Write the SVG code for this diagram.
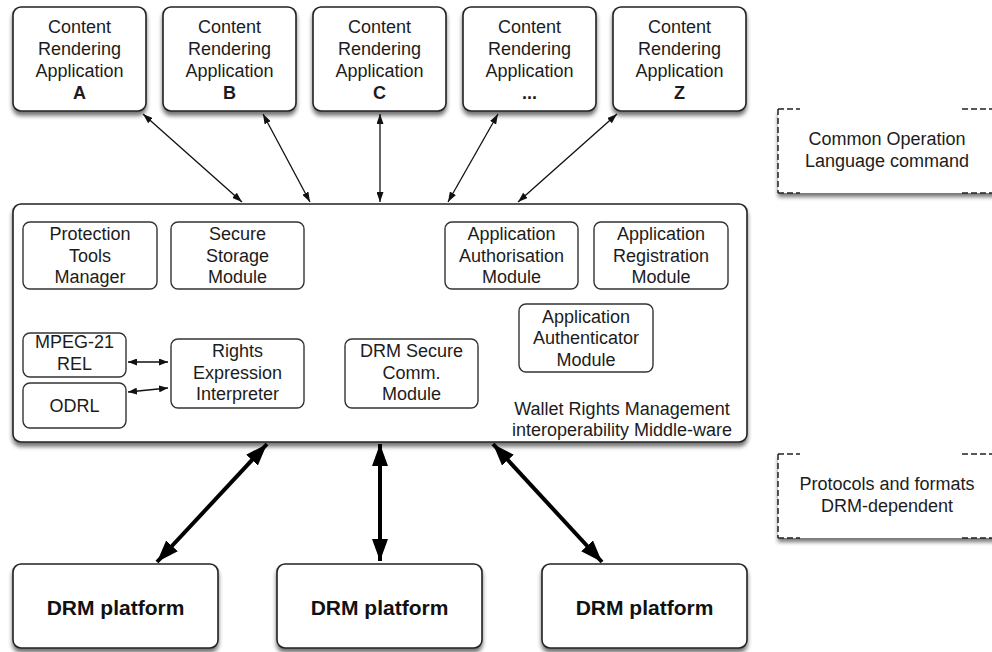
<svg xmlns="http://www.w3.org/2000/svg" width="992" height="652" viewBox="0 0 992 652">
  <defs>
    <filter id="shadow" x="-10%" y="-10%" width="120%" height="130%">
      <feGaussianBlur in="SourceAlpha" stdDeviation="2.2"/>
      <feOffset dx="0" dy="4" result="b"/>
      <feComponentTransfer><feFuncA type="linear" slope="0.55"/></feComponentTransfer>
      <feMerge><feMergeNode/><feMergeNode in="SourceGraphic"/></feMerge>
    </filter>
    <marker id="headThin" viewBox="0 0 10 7" refX="10" refY="3.5" markerWidth="10" markerHeight="7" markerUnits="userSpaceOnUse" orient="auto-start-reverse">
      <path d="M0,0 L10,3.5 L0,7 z" fill="#111"/>
    </marker>
    <marker id="headSmall" viewBox="0 0 9 7" refX="9" refY="3.5" markerWidth="9" markerHeight="7" markerUnits="userSpaceOnUse" orient="auto-start-reverse">
      <path d="M0,0 L9,3.5 L0,7 z" fill="#111"/>
    </marker>
    <marker id="headBig" viewBox="0 0 22 16" refX="22" refY="8" markerWidth="22" markerHeight="16" markerUnits="userSpaceOnUse" orient="auto-start-reverse">
      <path d="M0,0 L22,8 L0,16 z" fill="#000"/>
    </marker>
  </defs>
  <style>
    text { font-family: "Liberation Sans", Arial, Helvetica, sans-serif; font-size: 18px; fill: #1c1c1c; text-anchor: middle; }
    .b { font-weight: bold; }
    .big { font-size: 21px; font-weight: bold; fill: #111; }
    .box { fill: #fff; stroke: #222; stroke-width: 1.6; filter: url(#shadow); }
    .inner { fill: #fff; stroke: #333; stroke-width: 1.4; }
    .thin { stroke: #111; stroke-width: 1.3; fill: none; marker-start: url(#headThin); marker-end: url(#headThin); }
    .small { stroke: #111; stroke-width: 1.6; fill: none; marker-start: url(#headSmall); marker-end: url(#headSmall); }
    .thick { stroke: #000; stroke-width: 4; fill: none; marker-start: url(#headBig); marker-end: url(#headBig); }
    .dash { stroke: #222; stroke-width: 1.5; fill: none; stroke-dasharray: 6 3; }
  </style>

  <rect width="992" height="652" fill="#fff"/>

  <!-- content rendering applications -->
  <g id="appA">
    <rect class="box" x="13" y="7" width="133" height="104" rx="8"/>
    <text x="79.5" y="33">Content</text><text x="79.5" y="55">Rendering</text><text x="79.5" y="77">Application</text><text class="b" x="79.5" y="99">A</text>
  </g>
  <g id="appB">
    <rect class="box" x="163" y="7" width="133" height="104" rx="8"/>
    <text x="229.5" y="33">Content</text><text x="229.5" y="55">Rendering</text><text x="229.5" y="77">Application</text><text class="b" x="229.5" y="99">B</text>
  </g>
  <g id="appC">
    <rect class="box" x="313" y="7" width="133" height="104" rx="8"/>
    <text x="379.5" y="33">Content</text><text x="379.5" y="55">Rendering</text><text x="379.5" y="77">Application</text><text class="b" x="379.5" y="99">C</text>
  </g>
  <g id="appDots">
    <rect class="box" x="463" y="7" width="133" height="104" rx="8"/>
    <text x="529.5" y="33">Content</text><text x="529.5" y="55">Rendering</text><text x="529.5" y="77">Application</text><text class="b" x="529.5" y="99">...</text>
  </g>
  <g id="appZ">
    <rect class="box" x="613" y="7" width="133" height="104" rx="8"/>
    <text x="679.5" y="33">Content</text><text x="679.5" y="55">Rendering</text><text x="679.5" y="77">Application</text><text class="b" x="679.5" y="99">Z</text>
  </g>

  <!-- legend: common operation language -->
  <g id="legendCol">
    <rect x="778" y="109" width="220" height="84" fill="#fff" filter="url(#shadow)"/>
    <path class="dash" d="M778,109 V193"/>
    <path class="dash" d="M778,109 H800 M962,109 H992"/>
    <path class="dash" d="M778,193 H800 M962,193 H992"/>
    <text x="887" y="145">Common Operation</text>
    <text x="887" y="167">Language command</text>
  </g>

  <!-- middleware -->
  <g id="middleware">
    <rect class="box" x="13" y="204" width="734" height="238" rx="8"/>
    <text x="622" y="415">Wallet Rights Management</text>
    <text x="622" y="436">interoperability Middle-ware</text>
  </g>
  <g id="ptm">
    <rect class="inner" x="23" y="222" width="134" height="67" rx="7"/>
    <text x="90" y="240">Protection</text><text x="90" y="262">Tools</text><text x="90" y="283">Manager</text>
  </g>
  <g id="ssm">
    <rect class="inner" x="171" y="222" width="133" height="67" rx="7"/>
    <text x="237.5" y="240">Secure</text><text x="237.5" y="262">Storage</text><text x="237.5" y="283">Module</text>
  </g>
  <g id="aam">
    <rect class="inner" x="445" y="222" width="133" height="67" rx="7"/>
    <text x="511.5" y="240">Application</text><text x="511.5" y="262">Authorisation</text><text x="511.5" y="283">Module</text>
  </g>
  <g id="arm">
    <rect class="inner" x="594" y="222" width="134" height="67" rx="7"/>
    <text x="661" y="240">Application</text><text x="661" y="262">Registration</text><text x="661" y="283">Module</text>
  </g>
  <g id="authm">
    <rect class="inner" x="519" y="304" width="134" height="68" rx="7"/>
    <text x="586" y="323">Application</text><text x="586" y="344">Authenticator</text><text x="586" y="366">Module</text>
  </g>
  <g id="mpeg">
    <rect class="inner" x="23" y="333" width="103" height="44" rx="7"/>
    <text x="74.5" y="348">MPEG-21</text><text x="74.5" y="370">REL</text>
  </g>
  <g id="odrl">
    <rect class="inner" x="23" y="383" width="103" height="45" rx="7"/>
    <text x="74.5" y="412">ODRL</text>
  </g>
  <g id="rei">
    <rect class="inner" x="171" y="339" width="133" height="69" rx="7"/>
    <text x="237.5" y="357">Rights</text><text x="237.5" y="379">Expression</text><text x="237.5" y="400">Interpreter</text>
  </g>
  <g id="dsc">
    <rect class="inner" x="345" y="339" width="133" height="69" rx="7"/>
    <text x="411.5" y="357">DRM Secure</text><text x="411.5" y="379">Comm.</text><text x="411.5" y="400">Module</text>
  </g>

  <!-- legend: protocols and formats -->
  <g id="legendProto">
    <rect x="778" y="454" width="220" height="84" fill="#fff" filter="url(#shadow)"/>
    <path class="dash" d="M778,454 V538"/>
    <path class="dash" d="M778,454 H800 M962,454 H992"/>
    <path class="dash" d="M778,538 H800 M962,538 H992"/>
    <text x="887" y="490">Protocols and formats</text>
    <text x="887" y="512">DRM-dependent</text>
  </g>

  <!-- DRM platforms -->
  <g id="drm1">
    <rect class="box" x="13" y="564" width="205" height="84" rx="8"/>
    <text class="big" x="115.5" y="615">DRM platform</text>
  </g>
  <g id="drm2">
    <rect class="box" x="277" y="564" width="205" height="84" rx="8"/>
    <text class="big" x="379.5" y="615">DRM platform</text>
  </g>
  <g id="drm3">
    <rect class="box" x="542" y="564" width="205" height="84" rx="8"/>
    <text class="big" x="644.5" y="615">DRM platform</text>
  </g>

  <!-- connectors -->
  <g id="connectors">
    <line class="thin" x1="143" y1="114" x2="242" y2="202"/>
    <line class="thin" x1="263" y1="114" x2="310" y2="202"/>
    <line class="thin" x1="380" y1="114" x2="380" y2="202"/>
    <line class="thin" x1="498" y1="114" x2="448" y2="202"/>
    <line class="thin" x1="617" y1="114" x2="518" y2="202"/>
    <line class="small" x1="128" y1="362" x2="168" y2="362"/>
    <line class="small" x1="128" y1="392" x2="168" y2="388"/>
    <line class="thick" x1="267" y1="444" x2="157" y2="562"/>
    <line class="thick" x1="380" y1="444" x2="380" y2="561"/>
    <line class="thick" x1="493" y1="444" x2="602" y2="562"/>
  </g>
</svg>
